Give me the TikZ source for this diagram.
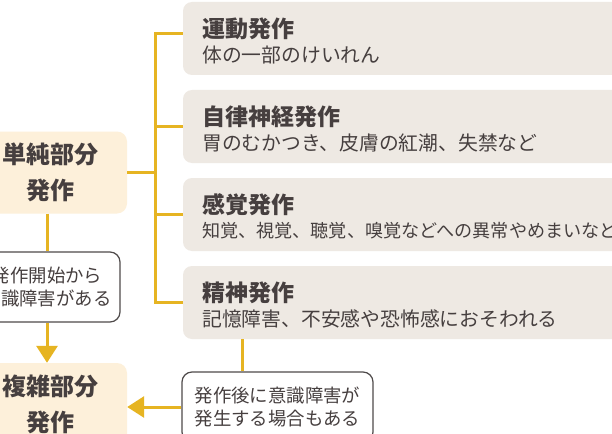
\documentclass[tikz,border=0pt]{standalone}
\usepackage{fontspec}
\setmainfont{Noto Sans CJK JP}
\usetikzlibrary{arrows.meta}
\definecolor{yl}{HTML}{E6B422}
\definecolor{graybox}{HTML}{EEE9E3}
\definecolor{orbox}{HTML}{FDF0DA}
\definecolor{txt}{HTML}{463F3F}
\definecolor{bord}{HTML}{4F4A4A}
\tikzset{
  rbox/.style={fill=graybox, rounded corners=9pt, minimum width=457pt, minimum height=73pt, inner sep=0pt},
  lbox/.style={fill=orbox, rounded corners=10pt, minimum width=154pt, minimum height=82pt, inner sep=0pt,
    text=txt, font=\fontsize{24}{36}\selectfont\bfseries, align=center},
  note/.style={draw=bord, line width=1.2pt, fill=white, rounded corners=10pt, minimum height=70pt, inner sep=0pt,
    text=txt, font=\fontsize{18.4}{23}\selectfont, align=center},
  ttl/.style={anchor=west, inner sep=0pt, text=txt, font=\fontsize{23}{26}\selectfont\bfseries},
  sub/.style={anchor=west, inner sep=0pt, text=txt, font=\fontsize{19.8}{23}\selectfont},
  yline/.style={draw=yl, line width=3pt},
  yarrow/.style={draw=yl, line width=3pt, -{Triangle[width=21pt,length=17pt]}}
}
\begin{document}
\begin{tikzpicture}[x=1pt,y=-1pt]
\useasboundingbox (0,0) rectangle (612,433);
\clip (0,0) rectangle (612,433);
\fill[white] (0,0) rectangle (612,433);
% right boxes
\node[rbox] (b1) at (411.5,38.5) {};
\node[rbox] (b2) at (411.5,126.5) {};
\node[rbox] (b3) at (411.5,214.5) {};
\node[rbox] (b4) at (411.5,302.5) {};
\node[ttl] (t1) at (202,29) {運動発作};
\node[sub] (s1) at (202,55.5) {体の一部のけいれん};
\node[ttl] (t2) at (202,117) {自律神経発作};
\node[sub] (s2) at (202,143) {胃のむかつき、皮膚の紅潮、失禁など};
\node[ttl] (t3) at (202,205) {感覚発作};
\node[sub, font=\fontsize{18.1}{23}\selectfont] (s3) at (202,231) {知覚、視覚、聴覚、嗅覚などへの異常やめまいなど};
\node[ttl] (t4) at (202,293) {精神発作};
\node[sub] (s4) at (202,319) {記憶障害、不安感や恐怖感におそわれる};
% left boxes
\node[lbox] (simple) at (50,172.5) {単純部分\\発作};
\node[lbox] (complex) at (50,404) {複雑部分\\発作};
\node[note, minimum width=146pt] (n1) at (47,287) {発作開始から\\意識障害がある};
\node[note, minimum width=191pt] (n2) at (277.5,407) {発作後に意識障害が\\発生する場合もある};
\coordinate (sp) at (155,0);
\coordinate (c4) at (242,0);
% connectors
\draw[yline] ([yshift=5pt]b1.west) -| (sp |- b4.west) -- (b4.west);
\draw[yline] (b2.west) -- (b2.west -| sp);
\draw[yline] (b3.west) -- (b3.west -| sp);
\draw[yline] (simple.east) -- (simple.east -| sp);
\draw[yline] (simple.south -| n1.north) -- (n1.north);
\draw[yarrow] (n1.south) -- (complex.north -| n1.south);
\draw[yline] (b4.south -| c4) -- (n2.north -| c4);
\draw[yarrow] (n2.west) -- (n2.west -| complex.east);
\end{tikzpicture}
\end{document}
